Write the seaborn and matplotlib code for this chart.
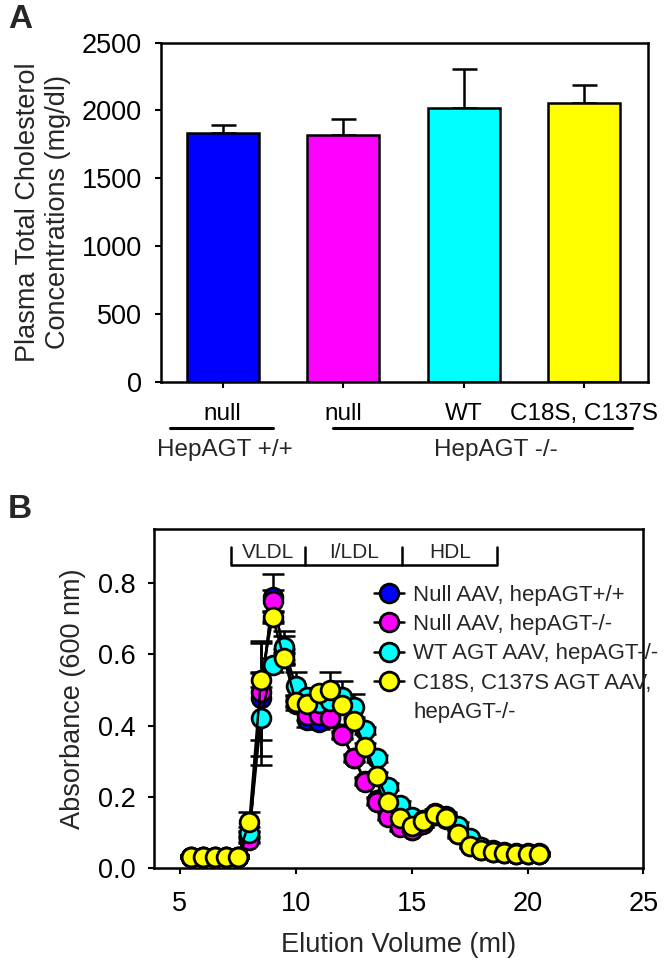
import matplotlib
matplotlib.use("Agg")
import matplotlib.pyplot as plt
import matplotlib.lines as mlines
import pandas as pd
import seaborn as sns

# ---- Panel A: plasma total cholesterol ----
bar_keys = ['null_wt', 'null_ko', 'wt_ko', 'mut_ko']
bar_ticklabels = ['null', 'null', 'WT', 'C18S, C137S']
bar_means = [1832, 1818, 2018, 2052]
bar_sem = [58, 122, 288, 138]
bar_colors = ['#0000FF', '#FF00FF', '#00FFFF', '#FFFF00']
genotype_labels = ['HepAGT +/+', 'HepAGT -/-']

# ---- Panel B: FPLC lipoprotein profile ----
volume = [5.5, 6.0, 6.5, 7.0, 7.5, 8.0, 8.5, 9.0, 9.5, 10.0, 10.5, 11.0, 11.5,
          12.0, 12.5, 13.0, 13.5, 14.0, 14.5, 15.0, 15.5, 16.0, 16.5, 17.0,
          17.5, 18.0, 18.5, 19.0, 19.5, 20.0, 20.5]
null_wt = [0.033, 0.033, 0.033, 0.033, 0.033, 0.090, 0.476, 0.760, 0.600, 0.460,
           0.415, 0.410, 0.420, 0.375, 0.310, 0.245, 0.190, 0.148, 0.118, 0.108,
           0.127, 0.150, 0.140, 0.100, 0.064, 0.051, 0.046, 0.043, 0.041, 0.040, 0.040]
null_wt_err = [0.003, 0.003, 0.003, 0.003, 0.003, 0.015, 0.160, 0.066, 0.015, 0.015,
               0.020, 0.020, 0.015, 0.010, 0.010, 0.010, 0.010, 0.010, 0.010, 0.010,
               0.010, 0.010, 0.010, 0.010, 0.005, 0.005, 0.005, 0.005, 0.005, 0.005, 0.005]
null_ko = [0.033, 0.033, 0.033, 0.033, 0.033, 0.080, 0.495, 0.750, 0.610, 0.470,
           0.430, 0.430, 0.420, 0.373, 0.308, 0.243, 0.187, 0.145, 0.115, 0.107,
           0.125, 0.148, 0.138, 0.097, 0.062, 0.050, 0.045, 0.042, 0.041, 0.040, 0.039]
null_ko_err = [0.003, 0.003, 0.003, 0.003, 0.003, 0.010, 0.135, 0.030, 0.040, 0.015,
               0.015, 0.015, 0.020, 0.010, 0.010, 0.010, 0.010, 0.010, 0.010, 0.010,
               0.010, 0.010, 0.010, 0.010, 0.005, 0.005, 0.005, 0.005, 0.005, 0.005, 0.005]
wt_agt = [0.033, 0.033, 0.033, 0.033, 0.033, 0.100, 0.420, 0.570, 0.620, 0.510,
          0.480, 0.462, 0.470, 0.480, 0.453, 0.387, 0.308, 0.229, 0.178, 0.145,
          0.135, 0.155, 0.147, 0.119, 0.084, 0.060, 0.050, 0.046, 0.044, 0.043, 0.042]
wt_agt_err = [0.003, 0.003, 0.003, 0.003, 0.003, 0.015, 0.130, 0.020, 0.045, 0.040,
              0.015, 0.015, 0.015, 0.045, 0.035, 0.010, 0.010, 0.010, 0.010, 0.010,
              0.010, 0.010, 0.010, 0.010, 0.005, 0.005, 0.005, 0.005, 0.005, 0.005, 0.005]
mut_agt = [0.033, 0.033, 0.033, 0.033, 0.033, 0.129, 0.528, 0.703, 0.588, 0.467,
           0.460, 0.490, 0.500, 0.458, 0.414, 0.341, 0.259, 0.187, 0.141, 0.119,
           0.132, 0.151, 0.141, 0.096, 0.063, 0.051, 0.045, 0.042, 0.041, 0.041, 0.041]
mut_agt_err = [0.003, 0.003, 0.003, 0.003, 0.003, 0.028, 0.020, 0.015, 0.015, 0.015,
               0.015, 0.015, 0.050, 0.015, 0.010, 0.010, 0.010, 0.010, 0.010, 0.010,
               0.010, 0.010, 0.010, 0.010, 0.005, 0.005, 0.005, 0.005, 0.005, 0.005, 0.005]
series_names = ['Null AAV, hepAGT+/+', 'Null AAV, hepAGT-/-',
                'WT AGT AAV, hepAGT-/-', 'C18S, C137S AGT AAV,']
fraction_edges = [7.2, 10.4, 14.6, 18.7]
fraction_names = ['VLDL', 'I/LDL', 'HDL']

sns.set_style('ticks')
plt.rcParams['font.family'] = ['Liberation Sans', 'DejaVu Sans']

LW = 1.8
TICK_FS = 19.5
CAT_FS = 17.5
LABEL_FS = 19.5


def style_axes(ax):
    for side in ['left', 'right', 'top', 'bottom']:
        ax.spines[side].set_visible(True)
        ax.spines[side].set_linewidth(LW)
        ax.spines[side].set_color('black')
    ax.tick_params(direction='out', length=4.5, width=1.5, labelsize=TICK_FS,
                   colors='black', top=False, right=False)
    ax.tick_params(axis='y', pad=9)


def plot_cholesterol(ax):
    df = pd.DataFrame({'group': bar_keys, 'tc': bar_means})
    sns.barplot(data=df, x='group', y='tc', hue='group', palette=bar_colors,
                legend=False, width=0.6, edgecolor='black', linewidth=LW,
                saturation=1, errorbar=None, ax=ax)
    ax.errorbar(range(len(bar_keys)), bar_means, yerr=[[0] * 4, bar_sem],
                fmt='none', ecolor='black', elinewidth=LW, capsize=9,
                capthick=LW, zorder=0.9)
    ax.set_xlim(-0.515, 3.53)
    ax.set_ylim(0, 2500)
    ax.set_yticks([0, 500, 1000, 1500, 2000, 2500])
    ax.set_xticks(range(len(bar_keys)))
    ax.set_xticklabels(bar_ticklabels)
    style_axes(ax)
    ax.tick_params(axis='x', pad=10.5, labelsize=CAT_FS)
    ax.set_xlabel('')
    ax.set_ylabel('Plasma Total Cholesterol\nConcentrations (mg/dl)',
                  fontsize=LABEL_FS, linespacing=1.2)
    ax.yaxis.set_label_coords(-0.185, 0.5)

    # genotype group underlines
    trans = ax.get_xaxis_transform()
    for (x0, x1), xc, name in zip([(-0.44, 0.42), (0.915, 3.40)], [0.02, 2.27],
                                  genotype_labels):
        ax.plot([x0, x1], [-0.137, -0.137], color='black', lw=2.2,
                transform=trans, clip_on=False)
        ax.text(xc, -0.203, name, transform=trans, ha='center', va='center',
                fontsize=CAT_FS)


def plot_fplc(ax):
    sets = [(null_wt, null_wt_err), (null_ko, null_ko_err),
            (wt_agt, wt_agt_err), (mut_agt, mut_agt_err)]
    for (vals, err) in sets:
        ax.errorbar(volume, vals, yerr=err, fmt='none', ecolor='black',
                    elinewidth=LW, capsize=8, capthick=LW, zorder=2)
    for i, ((vals, err), name, c) in enumerate(zip(sets, series_names, bar_colors)):
        sns.lineplot(x=volume, y=vals, color='black', linewidth=LW, marker='o',
                     markersize=13.5, markerfacecolor=c, markeredgecolor='black',
                     markeredgewidth=2.0, label=name, errorbar=None, ax=ax,
                     zorder=3 + i)

    # lipoprotein fraction bracket
    ax.plot([fraction_edges[0], fraction_edges[-1]], [0.849, 0.849],
            color='black', lw=LW, solid_capstyle='butt')
    for e in fraction_edges:
        ax.plot([e, e], [0.849, 0.90], color='black', lw=LW)
    for a, b, name in zip(fraction_edges[:-1], fraction_edges[1:], fraction_names):
        ax.text((a + b) / 2, 0.886, name, ha='center', va='center', fontsize=15)

    ax.set_xlim(3.9, 25)
    ax.set_ylim(0, 0.95)
    ax.set_xticks([5, 10, 15, 20, 25])
    ax.set_yticks([0.0, 0.2, 0.4, 0.6, 0.8])
    ax.set_yticklabels([f'{v:.1f}' for v in [0.0, 0.2, 0.4, 0.6, 0.8]])
    style_axes(ax)
    ax.tick_params(axis='x', pad=12)
    ax.set_xlabel('Elution Volume (ml)', fontsize=LABEL_FS, labelpad=11)
    ax.set_ylabel('Absorbance (600 nm)', fontsize=LABEL_FS)
    ax.yaxis.set_label_coords(-0.14, 0.5)

    handles, labels = ax.get_legend_handles_labels()
    handles.append(mlines.Line2D([], [], linestyle='none'))
    labels.append('hepAGT-/-')
    ax.legend(handles, labels, loc='upper left', bbox_to_anchor=(0.45, 0.837),
              frameon=False, fontsize=16, borderpad=0, borderaxespad=0,
              handlelength=1.35, handletextpad=0.4, labelspacing=0.38,
              numpoints=1)


fig = plt.figure(figsize=(6.64, 9.68), dpi=100)
axA = fig.add_axes([0.242, 0.6057, 0.734, 0.3502])
axB = fig.add_axes([0.2324, 0.103, 0.7366, 0.3502])
plot_cholesterol(axA)
plot_fplc(axB)
fig.text(20 / 664, 1 - 20 / 968, 'A', fontsize=24, fontweight='bold',
         ha='center', va='center')
fig.text(20 / 664, 1 - 509 / 968, 'B', fontsize=24, fontweight='bold',
         ha='center', va='center')
fig.savefig('out.png', dpi=100)
